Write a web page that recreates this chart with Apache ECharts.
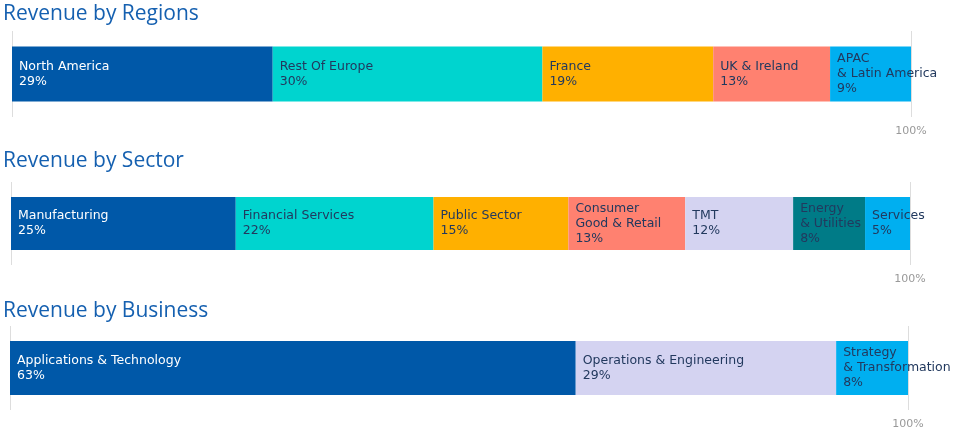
<!DOCTYPE html>
<html>
<head>
<meta charset="utf-8">
<script src="https://cdn.jsdelivr.net/npm/echarts@6/dist/echarts.min.js"></script>
<style>
  html, body { margin: 0; padding: 0; background: #fff; }
  #chart { width: 958px; height: 436px; }
</style>
</head>
<body>
<div id="chart"></div>
<script>
// 数据 - 每个条形的分段名称和百分比
var regionNames = ['North America', 'Rest Of Europe', 'France', 'UK & Ireland', 'APAC\n& Latin America'];
var regionValues = [29, 30, 19, 13, 9];
var sectorNames = ['Manufacturing', 'Financial Services', 'Public Sector', 'Consumer\nGood & Retail', 'TMT', 'Energy\n& Utilities', 'Services'];
var sectorValues = [25, 22, 15, 13, 12, 8, 5];
var businessNames = ['Applications & Technology', 'Operations & Engineering', 'Strategy\n& Transformation'];
var businessValues = [63, 29, 8];
var titles = ['Revenue by Regions', 'Revenue by Sector', 'Revenue by Business'];

// 颜色
var regionColors = ['#0058a8', '#00d4cf', '#ffb000', '#ff8170', '#00aff0'];
var sectorColors = ['#0058a8', '#00d4cf', '#ffb000', '#ff8170', '#d4d3f1', '#007b87', '#00aff0'];
var businessColors = ['#0058a8', '#d4d3f1', '#00aff0'];

var darkText = '#22395e';

var groups = [
    {names: regionNames, values: regionValues, colors: regionColors, grid: {left: 12, right: 47, top: 31, height: 86}, barWidth: 55},
    {names: sectorNames, values: sectorValues, colors: sectorColors, grid: {left: 11, right: 48, top: 182, height: 83}, barWidth: 53},
    {names: businessNames, values: businessValues, colors: businessColors, grid: {left: 10, right: 50, top: 326, height: 84}, barWidth: 54}
];
var titleTops = [4, 151, 301];

var series = [];
groups.forEach(function (g, gi) {
    g.names.forEach(function (name, i) {
        series.push({
            name: name,
            type: 'bar',
            stack: 'g' + gi,
            xAxisIndex: gi,
            yAxisIndex: gi,
            barWidth: g.barWidth,
            itemStyle: {color: g.colors[i]},
            label: {
                show: true,
                position: 'insideLeft',
                distance: 7,
                fontFamily: 'DejaVu Sans',
                fontSize: 12.5,
                lineHeight: 15,
                color: g.colors[i] === '#0058a8' ? '#ffffff' : darkText,
                formatter: function (p) {
                    return p.seriesName + '\n' + p.value + '%';
                }
            },
            emphasis: {disabled: true},
            data: [g.values[i]]
        });
    });
});

var option = {
    animation: false,
    title: titles.map(function (t, i) {
        return {
            text: t,
            left: 3,
            top: titleTops[i],
            padding: 0,
            textStyle: {color: '#1560b0', fontSize: 21, fontWeight: 'normal', fontFamily: 'Open Sans'}
        };
    }),
    grid: groups.map(function (g) { return g.grid; }),
    xAxis: groups.map(function (g, i) {
        return {
            type: 'value',
            gridIndex: i,
            min: 0,
            max: 100,
            interval: 100,
            axisLine: {show: false},
            axisTick: {show: false},
            splitLine: {show: true, lineStyle: {color: '#dddddd', width: 1}},
            axisLabel: {
                color: '#999999',
                fontSize: 11,
                fontFamily: 'DejaVu Sans',
                margin: 9,
                formatter: function (v) { return v === 100 ? '100%' : ''; }
            }
        };
    }),
    yAxis: groups.map(function (g, i) {
        return {
            type: 'category',
            gridIndex: i,
            data: [''],
            show: false
        };
    }),
    series: series
};

var chart = echarts.init(document.getElementById('chart'));
chart.setOption(option, true);
</script>
</body>
</html>
